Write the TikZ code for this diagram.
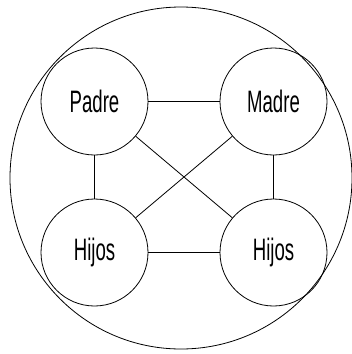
\documentclass[tikz,border=0pt]{standalone}
\usepackage{fontspec}
\setmainfont{Liberation Sans}
\begin{document}
\begin{tikzpicture}[x=1pt,y=-1pt,
  member/.style={draw, circle, line width=0.8pt, minimum size=107pt, inner sep=0pt,
    font=\fontsize{31}{32}\selectfont},
  link/.style={line width=0.8pt}]
\useasboundingbox (0,0) rectangle (352,354);
\node[draw, circle, line width=0.8pt, minimum size=342pt, inner sep=0pt] (fam) at (181,178) {};
\node[member] (padre) at (94.5,101.5) {\scalebox{0.6}[1]{Padre}};
\node[member] (madre) at (273.5,101.5) {\scalebox{0.6}[1]{Madre}};
\node[member] (hijosl) at (94.5,252.5) {\scalebox{0.6}[1]{Hijos}};
\node[member] (hijosr) at (273.5,252.5) {\scalebox{0.6}[1]{Hijos}};
\draw[link] (padre) -- (madre);
\draw[link] (padre) -- (hijosl);
\draw[link] (madre) -- (hijosr);
\draw[link] (padre) -- (hijosr);
\draw[link] (madre) -- (hijosl);
\draw[line width=1.6pt] (hijosl) -- (hijosr);
\end{tikzpicture}
\end{document}
